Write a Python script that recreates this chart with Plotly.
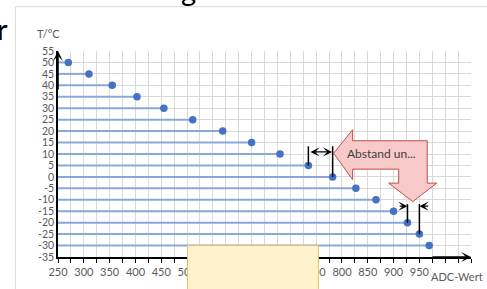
import plotly.graph_objects as go

# ---- data ----
adc_values = [270, 310, 355, 403, 455, 511, 569, 625, 680, 735, 782, 827, 866, 900, 927, 950, 969]
temperatures = [50, 45, 40, 35, 30, 25, 20, 15, 10, 5, 0, -5, -10, -15, -20, -25, -30]
x_tick_values = [250, 300, 350, 400, 450, 500, 550, 600, 650, 700, 750, 800, 850, 900, 950]
x_tick_labels = ["250", "300", "350", "400", "450", "500", "550", "600", "650", "700",
                 "750", "800", "850", "900", "950"]
y_tick_values = [55, 50, 45, 40, 35, 30, 25, 20, 15, 10, 5, 0, -5, -10, -15, -20, -25, -30, -35]
y_tick_labels = ["55", "50", "45", "40", "35", "30", "25", "20", "15", "10", "5", "0",
                 "-5", "-10", "-15", "-20", "-25", "-30", "-35"]
x_title = "ADC-Wert"
y_title = "T/°C"
callout_text = "Abstand un..."

X0, X1 = 250, 1050
Y0, Y1 = -35, 55
FONT = "Lato"
GRAY = "#595959"
GRID = "#D9D9D9"

fig = go.Figure()
fig.add_trace(go.Scatter(
    x=adc_values, y=temperatures, mode="markers",
    marker=dict(color="#4472C4", size=7.5),
    error_x=dict(type="data", symmetric=False,
                 array=[0] * len(adc_values),
                 arrayminus=[v - X0 for v in adc_values],
                 width=0, thickness=2, color="#8BA7DA"),
    showlegend=False, cliponaxis=False, hoverinfo="skip",
))

shapes = []
annotations = []

# chart frame (partial, from screenshot)
shapes.append(dict(type="line", xref="paper", yref="paper", x0=-0.1033, x1=1.2, y0=1.2147, y1=1.2147,
                   line=dict(color=GRID, width=1)))
shapes.append(dict(type="line", xref="paper", yref="paper", x0=-0.1033, x1=-0.1033, y0=1.2147, y1=-0.3,
                   line=dict(color=GRID, width=1)))

# measuring lines for pairs of points
def vline(i, ytop):
    shapes.append(dict(type="line", xref="x", yref="y", x0=adc_values[i], x1=adc_values[i],
                       y0=temperatures[i], y1=ytop, line=dict(color="black", width=1.5), layer="above"))

vline(9, 13.4)
vline(10, 13.4)
vline(14, -11.9)
vline(15, -11.9)

# double arrow between 5 and 0
annotations.append(dict(x=adc_values[10] - 1, y=10.9, ax=adc_values[9] + 1, ay=10.9,
                        xref="x", yref="y", axref="x", ayref="y", text="", showarrow=True,
                        arrowhead=3, startarrowhead=3, arrowside="end+start",
                        arrowwidth=1.3, arrowsize=1.2, startarrowsize=1.2, arrowcolor="black"))
# inward arrows between -20 and -25
annotations.append(dict(x=adc_values[14], y=-12.8, ax=909, ay=-12.8,
                        xref="x", yref="y", axref="x", ayref="y", text="", showarrow=True,
                        arrowhead=3, arrowwidth=1.3, arrowsize=1.2, arrowcolor="black"))
annotations.append(dict(x=adc_values[15], y=-12.8, ax=970, ay=-12.8,
                        xref="x", yref="y", axref="x", ayref="y", text="", showarrow=True,
                        arrowhead=3, arrowwidth=1.3, arrowsize=1.2, arrowcolor="black"))

# callout arrow shape
pts = [(783.9, 10.35), (820.7, 20.59), (820.7, 15.8), (965.2, 15.8), (965.2, -2.72),
       (983.6, -2.72), (937.1, -10.78), (890.5, -2.72), (909.9, -2.72), (909.9, 3.38),
       (820.7, 3.38), (820.7, -1.19)]
path = "M " + " L ".join(f"{x},{y}" for x, y in pts) + " Z"
shapes.append(dict(type="path", xref="x", yref="y", path=path, fillcolor="#F7C9C9",
                   line=dict(color="#C0504D", width=1), layer="above"))
annotations.append(dict(x=876, y=10.35, xref="x", yref="y", text=callout_text, showarrow=False,
                        xanchor="center", yanchor="middle",
                        font=dict(family=FONT, size=12, color="#404040")))

# yellow box overlapping axis
shapes.append(dict(type="rect", xref="paper", yref="paper", x0=0.3138, x1=0.6305, y0=0.056, y1=-0.3,
                   fillcolor="#FFF2CC", line=dict(color="#E0C466", width=1), layer="above"))

# axis arrows
annotations.append(dict(x=X0, y=Y1, xref="x", yref="y", ax=0, ay=40, text="", showarrow=True,
                        arrowhead=3, arrowwidth=1.5, arrowsize=1.1, arrowcolor="black"))
annotations.append(dict(x=X1, y=Y0, xref="x", yref="y", ax=-40, ay=0, text="", showarrow=True,
                        arrowhead=3, arrowwidth=1.5, arrowsize=1.1, arrowcolor="black"))

# axis titles
annotations.append(dict(x=-0.0226, y=1.0858, xref="paper", yref="paper", text=y_title, showarrow=False,
                        xanchor="center", yanchor="middle",
                        font=dict(family=FONT, size=11, color=GRAY)))
annotations.append(dict(x=0.966, y=-0.0955, xref="paper", yref="paper", text=x_title, showarrow=False,
                        xanchor="center", yanchor="middle",
                        font=dict(family=FONT, size=11, color=GRAY)))

# surrounding document text fragments
annotations.append(dict(x=-0.116, y=1.1115, xref="paper", yref="paper", text="r", showarrow=False,
                        xanchor="right", yanchor="middle", font=dict(family=FONT, size=29, color="black")))
annotations.append(dict(x=0.317, y=1.30, xref="paper", yref="paper", text="g", showarrow=False,
                        xanchor="center", yanchor="middle", font=dict(family=FONT, size=29, color="black")))

fig.update_layout(
    width=487, height=289,
    margin=dict(l=58, r=16, t=51, b=32),
    paper_bgcolor="white", plot_bgcolor="white",
    font=dict(family=FONT, size=11, color=GRAY),
    hovermode=False,
    shapes=shapes, annotations=annotations,
    xaxis=dict(range=[X0, X1], tickvals=x_tick_values, ticktext=x_tick_labels,
               tickfont=dict(family=FONT, size=11, color=GRAY),
               showgrid=True, gridcolor=GRID, gridwidth=1,
               showline=True, linecolor="black", linewidth=1.5,
               ticks="outside", ticklen=4, tickcolor="black", tickwidth=1,
               minor=dict(tick0=X0, dtick=25, showgrid=True, gridcolor=GRID, gridwidth=1,
                          ticks="outside", ticklen=4, tickcolor="black", tickwidth=1),
               zeroline=False, fixedrange=True, automargin=False),
    yaxis=dict(range=[Y0, Y1], tickvals=y_tick_values, ticktext=y_tick_labels,
               tickfont=dict(family=FONT, size=10.5, color=GRAY),
               showgrid=True, gridcolor=GRID, gridwidth=1,
               showline=True, linecolor="black", linewidth=1.5,
               ticks="", zeroline=False, fixedrange=True, automargin=False),
)

fig.write_html("out.html", config={"displayModeBar": False},
               post_script="document.body.style.margin='0px';")
